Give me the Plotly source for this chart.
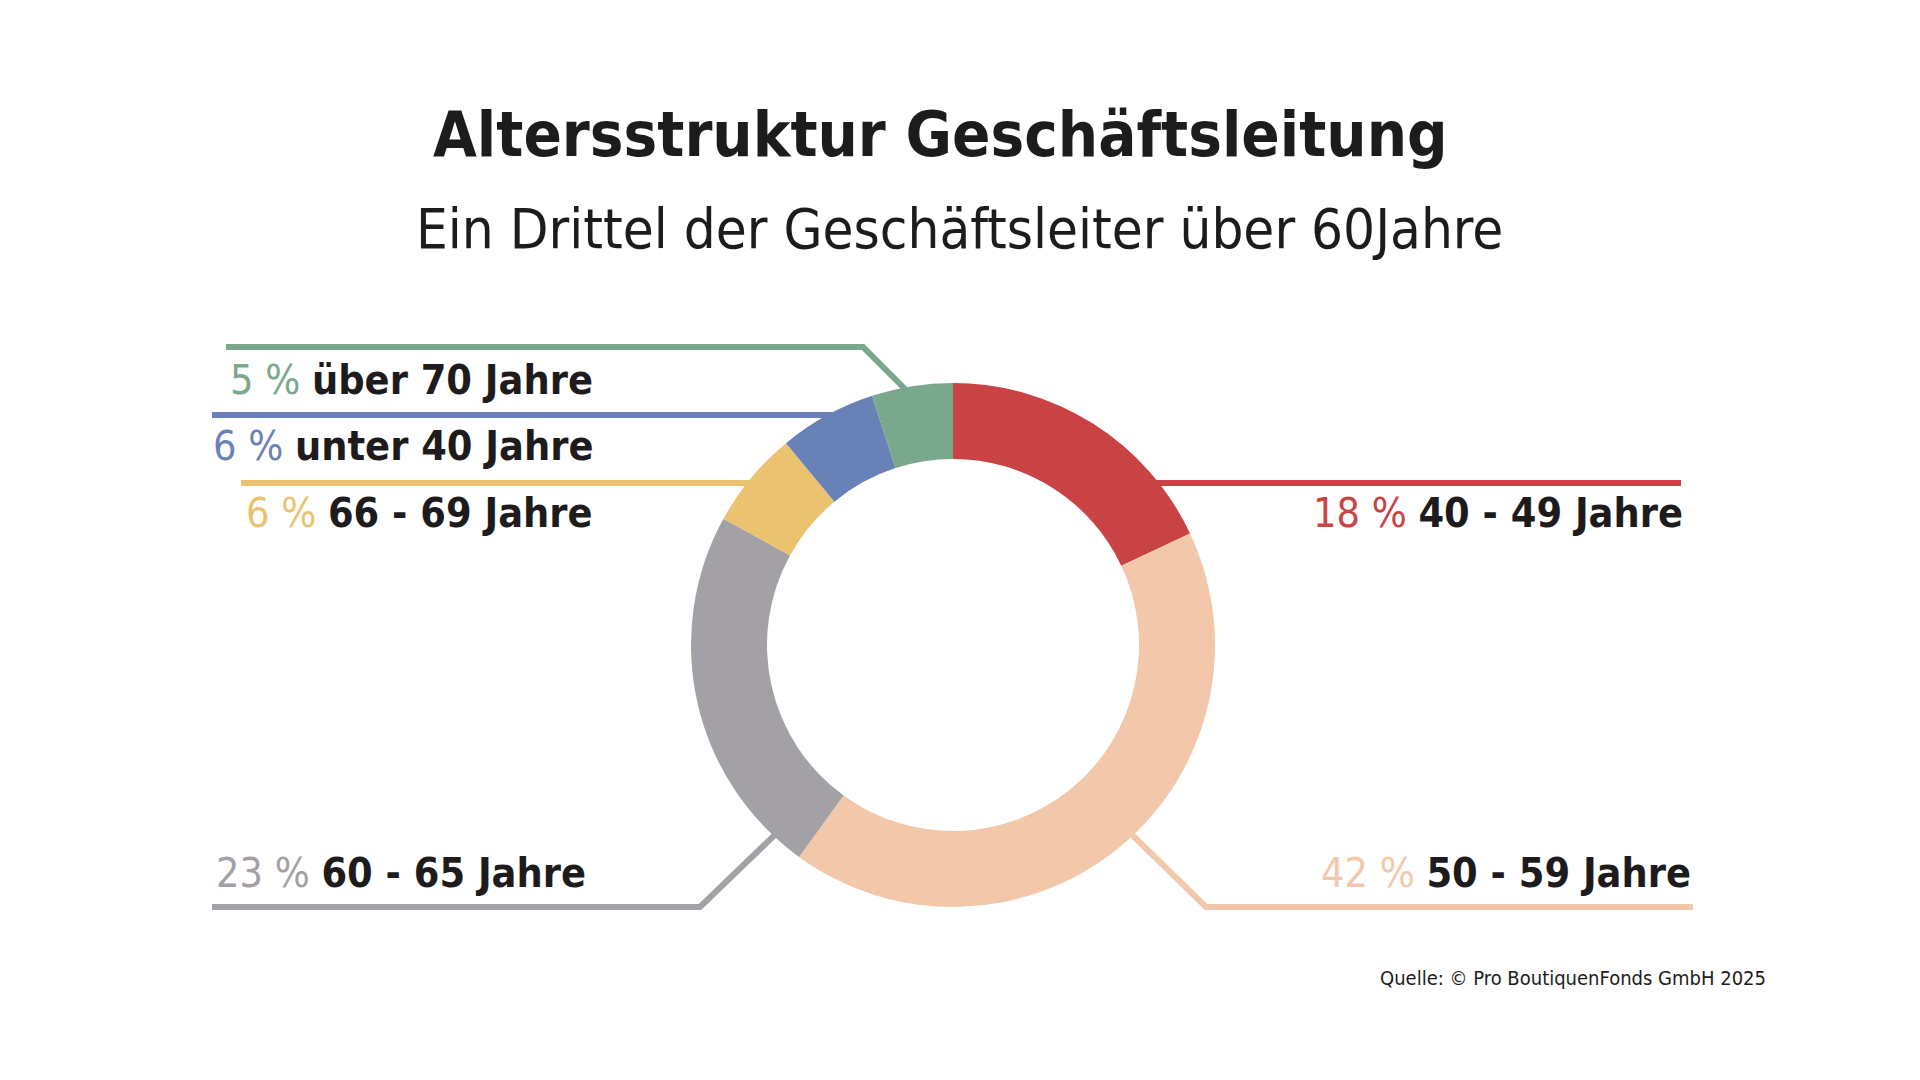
import plotly.graph_objects as go

# Daten
kategorien = ["40 - 49 Jahre", "50 - 59 Jahre", "60 - 65 Jahre", "66 - 69 Jahre", "unter 40 Jahre", "über 70 Jahre"]
anteile = [18, 42, 23, 6, 6, 5]
farben = ["#C94344", "#F2C7AA", "#A3A1A6", "#EAC270", "#6882B8", "#7AA88C"]

titel = "Altersstruktur Geschäftsleitung"
untertitel = "Ein Drittel der Geschäftsleiter über 60Jahre"
quelle = "Quelle: © Pro BoutiquenFonds GmbH 2025"

W, H = 1920, 1080
FONT = "DejaVu Sans Condensed, Liberation Sans, sans-serif"
TEXT = "#1E1B1C"

# Donut-Geometrie (Pixel)
cx, cy, R = 945, 637, 262

fig = go.Figure()
fig.add_trace(go.Pie(
    labels=kategorien, values=anteile, sort=False, direction="clockwise", rotation=0,
    hole=0.71, marker=dict(colors=farben, line=dict(width=0)),
    textinfo="none", hoverinfo="label+percent", showlegend=False,
    domain=dict(x=[(cx - R) / W, (cx + R) / W], y=[(H - cy - R) / H, (H - cy + R) / H]),
))

# Führungslinien und Beschriftungen: (Kategorie-Index, Linienpfad, Text rechts, Text y)
labels = [
    (5, [(218, 339), (855, 339), (906, 390)], 587, 372),
    (4, [(204, 407), (840, 407)], 587, 438),
    (3, [(233, 475), (770, 475)], 587, 505),
    (0, [(1110, 475), (1673, 475)], 1677, 505),
    (2, [(204, 899), (692, 899), (776, 818)], 580, 865),
    (1, [(1115, 818), (1198, 899), (1685, 899)], 1685, 865),
]

for idx, pfad, tx, ty in labels:
    d = "M " + " L ".join(f"{x},{y}" for x, y in pfad)
    fig.add_shape(type="path", path=d, xref="x", yref="y", layer="below",
                  line=dict(color=farben[idx], width=6))
    fig.add_annotation(
        x=tx, y=ty, xref="x", yref="y", xanchor="right", yanchor="middle", showarrow=False,
        text=f"<span style='color:{farben[idx]}'>{anteile[idx]} %</span> <b>{kategorien[idx]}</b>",
        font=dict(family=FONT, size=41, color=TEXT),
    )

fig.add_annotation(x=932, y=126, xref="x", yref="y", showarrow=False, text=f"<b>{titel}</b>",
                   font=dict(family=FONT, size=63, color=TEXT))
fig.add_annotation(x=951, y=220, xref="x", yref="y", showarrow=False, text=untertitel,
                   font=dict(family=FONT, size=56, color=TEXT))
fig.add_annotation(x=1760, y=970, xref="x", yref="y", xanchor="right", showarrow=False, text=quelle,
                   font=dict(family=FONT, size=20, color=TEXT))

fig.update_xaxes(range=[0, W], visible=False, fixedrange=True)
fig.update_yaxes(range=[H, 0], visible=False, fixedrange=True)
fig.update_layout(width=W, height=H, margin=dict(l=0, r=0, t=0, b=0),
                  paper_bgcolor="white", plot_bgcolor="rgba(0,0,0,0)")

fig.write_html("out.html")
